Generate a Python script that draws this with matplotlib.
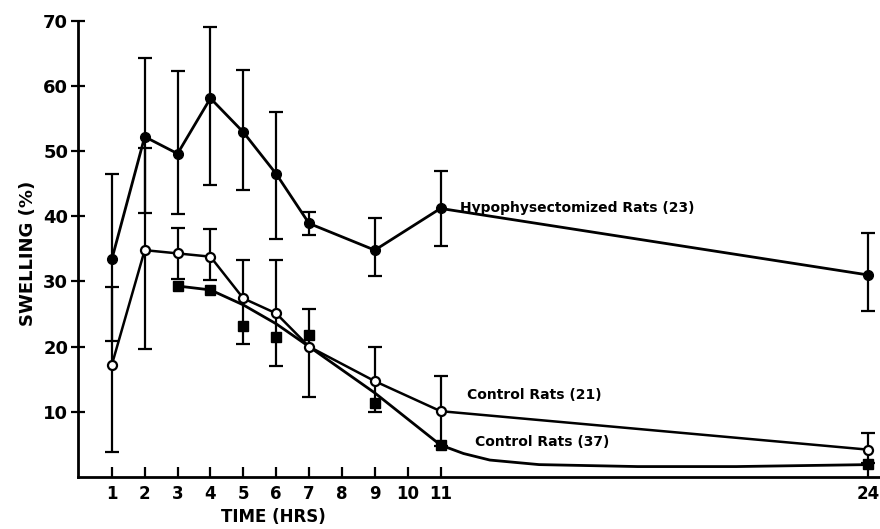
import matplotlib
matplotlib.use("Agg")
import matplotlib.pyplot as plt

plt.rcParams['font.family'] = ['DejaVu Sans']

# hypophysectomized rats (23) - filled circles
hypo_t = [1, 2, 3, 4, 5, 6, 7, 9, 11, 24]
hypo_v = [33.4, 52.2, 49.6, 58.1, 52.9, 46.5, 38.9, 34.8, 41.2, 31.0]
hypo_lo = [20.9, 40.5, 40.3, 44.8, 44.0, 36.5, 37.1, 30.8, 35.4, 25.4]
hypo_hi = [46.5, 64.2, 62.3, 69.0, 62.5, 56.0, 40.7, 39.7, 47.0, 37.4]

# control rats (21) - open circles
c21_t = [1, 2, 3, 4, 5, 6, 7, 9, 11, 24]
c21_v = [17.2, 34.8, 34.3, 33.8, 27.4, 25.1, 20.0, 14.7, 10.1, 4.2]
c21_lo = [3.8, 19.6, 30.4, 30.2, 20.4, 17.1, 12.3, 9.9, 4.7, 2.2]
c21_hi = [29.1, 50.5, 38.2, 38.0, 33.3, 33.3, 25.7, 19.9, 15.5, 6.7]

# control rats (37) - filled squares, with the smooth curve drawn through them
c37_t = [3, 4, 5, 6, 7, 9, 11, 24]
c37_v = [29.3, 28.7, 23.2, 21.5, 21.8, 11.4, 4.9, 2.0]
curve_t = [3, 4, 5, 6, 7, 9, 11, 11.7, 12.5, 14, 17, 20, 24]
curve_v = [29.3, 28.7, 26.4, 23.5, 20.0, 12.9, 4.9, 3.6, 2.6, 1.9, 1.6, 1.6, 1.9]

xticks = [1, 2, 3, 4, 5, 6, 7, 8, 9, 10, 11, 24]
yticks = [10, 20, 30, 40, 50, 60, 70]

fig = plt.figure(figsize=(8.8, 5.29), dpi=100)
ax = fig.add_axes([0.0886, 0.0983, 0.9114, 0.8626])

ax.plot(curve_t, curve_v, color='black', lw=2)
ax.plot(c37_t, c37_v, ls='none', marker='s', ms=7, color='black')

ax.errorbar(hypo_t, hypo_v,
            yerr=[[v - l for v, l in zip(hypo_v, hypo_lo)],
                  [h - v for v, h in zip(hypo_v, hypo_hi)]],
            color='black', lw=2, marker='o', ms=7, mfc='black',
            elinewidth=1.6, capsize=5, capthick=1.6)
ax.errorbar(c21_t, c21_v,
            yerr=[[v - l for v, l in zip(c21_v, c21_lo)],
                  [h - v for v, h in zip(c21_v, c21_hi)]],
            color='black', lw=1.8, marker='o', ms=6.5, mfc='white', mew=1.6,
            elinewidth=1.6, capsize=5, capthick=1.6)

ax.text(11.6, 40.6, 'Hypophysectomized Rats (23)', fontsize=10, fontweight='bold')
ax.text(11.8, 11.9, 'Control Rats (21)', fontsize=10, fontweight='bold')
ax.text(12.05, 4.8, 'Control Rats (37)', fontsize=10, fontweight='bold')

ax.set_xlim(-0.03, 24.37)
ax.set_ylim(0, 70)
ax.set_xticks(xticks)
ax.set_xticklabels([str(t) for t in xticks], fontsize=12, fontweight='bold')
ax.set_yticks(yticks)
ax.set_yticklabels([str(v) for v in yticks], fontsize=13, fontweight='bold')
ax.tick_params(axis='x', direction='in', length=7, width=1.6, pad=6)
ax.tick_params(axis='y', direction='inout', length=10, width=1.6, pad=2)
ax.spines['top'].set_visible(False)
ax.spines['right'].set_visible(False)
ax.spines['left'].set_linewidth(2)
ax.spines['bottom'].set_linewidth(2)

ax.set_xlabel('TIME (HRS)', fontsize=12, fontweight='bold')
ax.xaxis.set_label_coords(0.244, -0.068)
ax.set_ylabel('SWELLING (%)', fontsize=13, fontweight='bold')
ax.yaxis.set_label_coords(-0.051, 0.49)

fig.savefig('out.png', dpi=100)
